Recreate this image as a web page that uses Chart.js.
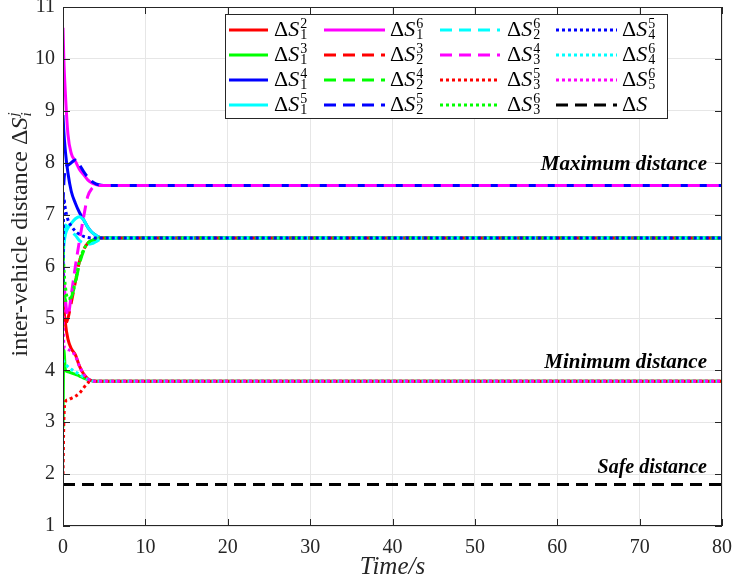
<!DOCTYPE html>
<html>
<head>
<meta charset="utf-8">
<script src="https://cdn.jsdelivr.net/npm/chart.js@4"></script>
<style>
  body { margin: 0; background: #fff; }
  #wrap { width: 733px; height: 585px; }
</style>
</head>
<body>
<div id="wrap"><canvas id="myChart" width="733" height="585"></canvas></div>
<script>
// sample times (s) shared by all transient series
const times = [0, 0.1, 0.3, 0.6, 1, 1.5, 2, 2.5, 3, 3.5, 4, 4.5, 5.5, 80];

// values, one array per curve
const s1_2 = [6.0, 5.3, 4.9, 4.6, 4.42, 4.3, 4.08, 3.93, 3.84, 3.8, 3.79, 3.79, 3.79, 3.79];
const s1_3 = [2.9, 4.4, 4.0, 3.97, 3.95, 3.92, 3.89, 3.85, 3.82, 3.8, 3.79, 3.79, 3.79, 3.79];
const s1_4 = [8.92, 8.6, 8.2, 7.8, 7.45, 7.22, 7.04, 6.9, 6.76, 6.66, 6.6, 6.56, 6.55, 6.55];
const s1_5 = [6.1, 6.4, 6.62, 6.74, 6.83, 6.92, 6.96, 6.9, 6.76, 6.66, 6.6, 6.56, 6.55, 6.55];
const s1_6 = [10.6, 10.0, 9.3, 8.55, 8.18, 8.03, 7.87, 7.77, 7.67, 7.61, 7.58, 7.56, 7.56, 7.56];
const s2_3 = [5.6, 5.2, 4.9, 5.0, 5.3, 5.7, 6.1, 6.32, 6.45, 6.5, 6.53, 6.55, 6.55, 6.55];
const s2_4 = [5.9, 5.6, 5.35, 5.3, 5.4, 5.68, 6.05, 6.3, 6.44, 6.5, 6.53, 6.55, 6.55, 6.55];
const s2_5 = [7.2, 7.6, 7.9, 7.95, 8.0, 8.05, 7.96, 7.83, 7.72, 7.64, 7.59, 7.57, 7.56, 7.56];
const s2_6 = [6.3, 6.6, 6.8, 6.75, 6.68, 6.6, 6.5, 6.45, 6.43, 6.44, 6.48, 6.52, 6.55, 6.55];
const s3_4 = [6.05, 5.75, 5.35, 5.05, 5.45, 6.0, 6.5, 6.95, 7.35, 7.5, 7.55, 7.56, 7.56, 7.56];
const s3_5 = [2.0, 3.0, 3.4, 3.43, 3.46, 3.5, 3.56, 3.66, 3.76, 3.79, 3.79, 3.79, 3.79, 3.79];
const s3_6 = [6.4, 6.0, 5.6, 5.38, 5.42, 5.72, 6.1, 6.32, 6.45, 6.5, 6.53, 6.55, 6.55, 6.55];
const s4_5 = [5.7, 7.3, 7.1, 6.9, 6.78, 6.68, 6.62, 6.58, 6.56, 6.55, 6.55, 6.55, 6.55, 6.55];
const s4_6 = [4.2, 4.16, 4.12, 4.07, 4.02, 3.97, 3.92, 3.87, 3.83, 3.8, 3.79, 3.79, 3.79, 3.79];
const s5_6 = [5.4, 4.5, 4.42, 4.4, 4.37, 4.28, 4.08, 3.93, 3.84, 3.8, 3.79, 3.79, 3.79, 3.79];

const safeTimes = [0, 80];
const safeValues = [1.8, 1.8];

const seriesList = [s1_2, s1_3, s1_4, s1_5, s1_6, s2_3, s2_4, s2_5, s2_6, s3_4, s3_5, s3_6, s4_5, s4_6, s5_6];
const legendSub = ['1','1','1','1','1','2','2','2','2','3','3','3','4','4','5',''];
const legendSup = ['2','3','4','5','6','3','4','5','6','4','5','6','5','6','6',''];

const xTicks = [0, 10, 20, 30, 40, 50, 60, 70, 80];
const yTicks = [1, 2, 3, 4, 5, 6, 7, 8, 9, 10, 11];

const annotations = [
  { text: 'Maximum distance', y: 7.85, size: 21 },
  { text: 'Minimum distance', y: 4.05, size: 21 },
  { text: 'Safe distance', y: 2.03, size: 20 }
];

const PALETTE = ['#ff0000', '#00ff00', '#0000ff', '#00ffff', '#ff00ff'];
const DASHES = [[], [12, 7], [3, 3]];
const SERIF = '"Liberation Serif", "Times New Roman", serif';

let datasets = [];
for (let i = 0; i < seriesList.length; i++) {
  let pts = [];
  for (let k = 0; k < times.length; k++) {
    pts.push({ x: times[k], y: seriesList[i][k] });
  }
  datasets.push({
    label: 'dS' + legendSub[i] + legendSup[i],
    data: pts,
    borderColor: PALETTE[i % 5],
    borderDash: DASHES[Math.floor(i / 5)],
    borderWidth: 3,
    pointRadius: 0,
    cubicInterpolationMode: 'monotone',
    borderCapStyle: 'butt',
    // green solid sits under red solid on the min line
    order: i == 1 ? 30 : 20 - i
  });
}
datasets.push({
  label: 'dS',
  data: safeTimes.map((t, k) => ({ x: t, y: safeValues[k] })),
  borderColor: '#000000',
  borderDash: [12, 7],
  borderWidth: 3,
  pointRadius: 0,
  borderCapStyle: 'butt',
  order: 0
});

// Delta S with sub/superscript
function drawDeltaS(ctx, x, y, size, sub, sup) {
  ctx.textAlign = 'left';
  ctx.textBaseline = 'alphabetic';
  ctx.font = size + 'px ' + SERIF;
  ctx.fillText('\u0394', x, y);
  x += ctx.measureText('\u0394').width;
  ctx.font = 'italic ' + size + 'px ' + SERIF;
  ctx.fillText('S', x, y);
  x += ctx.measureText('S').width + 1;
  let small = Math.round(size * 0.64);
  ctx.font = small + 'px ' + SERIF;
  if (sup) ctx.fillText(sup, x, y - size * 0.38);
  if (sub) ctx.fillText(sub, x, y + size * 0.12);
}

const decor = {
  id: 'decor',
  afterDatasetsDraw(chart) {
    const ctx = chart.ctx;
    const a = chart.chartArea;
    const xs = chart.scales.x, ys = chart.scales.y;
    ctx.save();

    // annotations
    ctx.fillStyle = '#000';
    ctx.textAlign = 'right';
    ctx.textBaseline = 'alphabetic';
    annotations.forEach(n => {
      ctx.font = 'bold italic ' + n.size + 'px ' + SERIF;
      ctx.fillText(n.text, 707, ys.getPixelForValue(n.y));
    });

    // box and inward ticks
    ctx.strokeStyle = '#262626';
    ctx.lineWidth = 1;
    ctx.strokeRect(a.left + 0.5, a.top + 0.5, a.right - a.left - 1, a.bottom - a.top - 1);
    ctx.beginPath();
    xTicks.forEach(v => {
      let px = Math.round(xs.getPixelForValue(v)) + 0.5;
      ctx.moveTo(px, a.bottom); ctx.lineTo(px, a.bottom - 7);
      ctx.moveTo(px, a.top); ctx.lineTo(px, a.top + 7);
    });
    yTicks.forEach(v => {
      let py = Math.round(ys.getPixelForValue(v)) + 0.5;
      ctx.moveTo(a.left, py); ctx.lineTo(a.left + 7, py);
      ctx.moveTo(a.right, py); ctx.lineTo(a.right - 7, py);
    });
    ctx.stroke();

    // legend
    ctx.fillStyle = '#fff';
    ctx.fillRect(225, 14, 442, 104);
    ctx.strokeRect(225.5, 14.5, 442, 104);
    const lineX = [[229, 268], [324, 385], [440, 500], [556, 617]];
    const textX = [274, 390, 507, 622];
    chart.data.datasets.forEach((ds, i) => {
      let col = Math.floor(i / 4), row = i % 4;
      let y = 30 + row * 25;
      ctx.beginPath();
      ctx.strokeStyle = ds.borderColor;
      ctx.lineWidth = 3;
      ctx.lineCap = 'butt';
      ctx.setLineDash(ds.borderDash);
      ctx.moveTo(lineX[col][0], y);
      ctx.lineTo(lineX[col][1], y);
      ctx.stroke();
      ctx.setLineDash([]);
      ctx.fillStyle = '#000';
      drawDeltaS(ctx, textX[col], y + 6, 22, legendSub[i], legendSup[i]);
    });

    // x title
    ctx.fillStyle = '#262626';
    ctx.font = 'italic 25px ' + SERIF;
    ctx.textAlign = 'center';
    ctx.fillText('Time/s', (a.left + a.right) / 2, 574);

    // y title, rotated
    ctx.translate(27, 232);
    ctx.rotate(-Math.PI / 2);
    ctx.font = '24px ' + SERIF;
    const base = 'inter-vehicle distance ';
    let w = ctx.measureText(base).width;
    let wd = ctx.measureText('\u0394').width;
    ctx.font = 'italic 24px ' + SERIF;
    let ws = ctx.measureText('S').width;
    let total = w + wd + ws + 10;
    let x0 = -total / 2;
    ctx.font = '24px ' + SERIF;
    ctx.textAlign = 'left';
    ctx.fillText(base, x0, 0);
    x0 += w;
    ctx.fillText('\u0394', x0, 0);
    x0 += wd;
    ctx.font = 'italic 24px ' + SERIF;
    ctx.fillText('S', x0, 0);
    x0 += ws + 1;
    ctx.font = 'italic 15px ' + SERIF;
    ctx.fillText('j', x0, -9);
    ctx.fillText('i', x0, 4);
    ctx.restore();
  }
};

const config = {
  type: 'line',
  data: { datasets: datasets },
  options: {
    responsive: false,
    animation: false,
    layout: { padding: { top: 7, right: 11, left: 0, bottom: 0 } },
    plugins: { legend: { display: false }, tooltip: { enabled: false } },
    scales: {
      x: {
        type: 'linear',
        min: 0,
        max: 80,
        border: { display: false },
        grid: { color: '#e6e6e6', lineWidth: 1, drawTicks: false },
        ticks: {
          stepSize: 10, autoSkip: false, maxRotation: 0, padding: 10,
          color: '#262626', font: { family: SERIF, size: 20 }
        },
        afterFit(scale) { scale.height = 59; scale.paddingLeft = 0; scale.paddingRight = 0; }
      },
      y: {
        min: 1,
        max: 11,
        border: { display: false },
        grid: { color: '#e6e6e6', lineWidth: 1, drawTicks: false },
        ticks: {
          stepSize: 1, autoSkip: false, padding: 8,
          color: '#262626', font: { family: SERIF, size: 20 }
        },
        afterFit(scale) { scale.width = 63; scale.paddingTop = 0; scale.paddingBottom = 0; }
      }
    }
  },
  plugins: [decor]
};

const myChart = new Chart(document.getElementById('myChart'), config);
</script>
</body>
</html>
